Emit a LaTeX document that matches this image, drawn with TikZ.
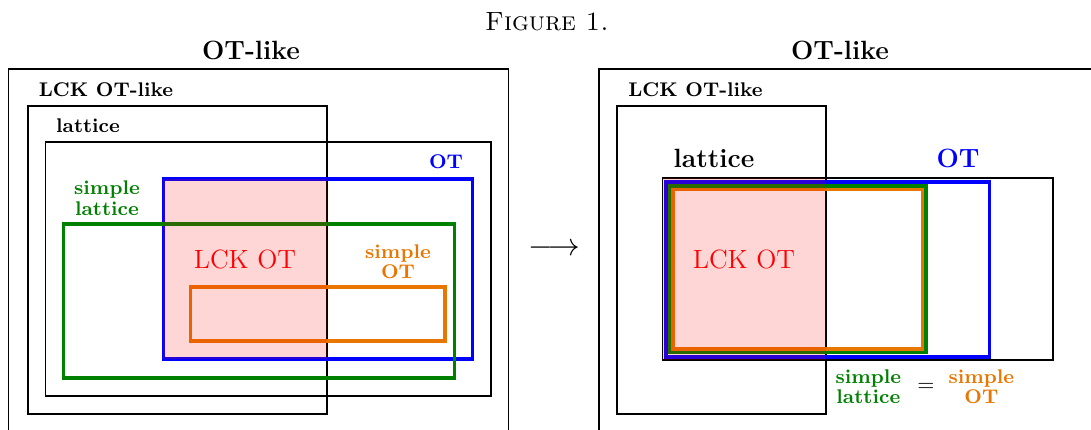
\documentclass[tikz,border=0pt]{standalone}
\usepackage{amsmath,amssymb}
\usepackage{xcolor}
\usetikzlibrary{positioning}
\definecolor{otorange}{RGB}{232,118,0}
\definecolor{otgreen}{RGB}{0,128,0}

\begin{document}
\begin{tikzpicture}[x=0.4545pt,y=-0.4545pt,
  thinbox/.style={draw=black,line width=0.7pt},
  thickbox/.style={line width=1.5pt},
  lab/.style={font=\small\bfseries,align=center,inner sep=0pt},
  biglab/.style={font=\large\bfseries,inner sep=0pt},
  lckfill/.style={fill=red,fill opacity=0.16}]
  \clip (0,0) rectangle (1091,430);
  \node[inner sep=0pt,anchor=base,font=\large] (cap) at (547,31) {\textsc{Figure 1.}};
  % left picture
  \node[biglab,anchor=base] (tl) at (251,60) {OT-like};
  \draw[thinbox] (8.7,69) rectangle (508.5,450);
  \node[lab,anchor=base] (lckl) at (106,97) {LCK OT-like};
  \draw[thinbox] (27.8,106) rectangle (327,414);
  \node[lab,anchor=base] (latl) at (88,133) {lattice};
  \draw[thinbox] (45.5,142) rectangle (490.8,396);
  \node[lab,anchor=base,text=blue] (otl) at (446,169) {OT};
  \draw[thickbox,blue] (163.4,179) rectangle (472.7,359);
  \node[lab,text=otgreen] (sll) at (107,198) {simple\\[-1.5pt]lattice};
  \draw[thickbox,otgreen] (63.3,224) rectangle (454.3,378);
  \node[lab,text=otorange] (sol) at (398,262) {simple\\[-2pt]OT};
  \draw[thickbox,otorange] (190.8,287) rectangle (445,341);
  \fill[lckfill] (163.4,179) rectangle (327,359);
  \node[font=\large,text=red,anchor=base] (lcotl) at (245,269) {LCK OT};
  % arrow
  \node[inner sep=0pt] (arr) at (554.5,250) {\Large$\longrightarrow$};
  % right picture
  \node[biglab,anchor=base] (tr) at (840,60) {OT-like};
  \draw[thinbox] (599,69) rectangle (1110,450);
  \node[lab,anchor=base] (lckr) at (695.5,97) {LCK OT-like};
  \draw[thinbox] (617,106) rectangle (826,414);
  \node[biglab,anchor=base] (latr) at (714,168) {lattice};
  \node[biglab,anchor=base,text=blue] (otr) at (958,168) {OT};
  \draw[thinbox] (662.7,178) rectangle (1053,360);
  \draw[thickbox,blue] (666,182) rectangle (989.6,357);
  \draw[thickbox,otgreen] (669.5,186) rectangle (926,352);
  \draw[thickbox,otorange] (673,189.5) rectangle (922.8,349);
  \fill[lckfill] (662.7,178) rectangle (826,360);
  \node[font=\large,text=red,anchor=base] (lcotr) at (744,269) {LCK OT};
  \node[inner sep=0pt] (eq) at (926,387) {$=$};
  \node[lab,text=otgreen,left=7pt of eq] (slr) {simple\\[-2pt]lattice};
  \node[lab,text=otorange,right=6pt of eq] (sor) {simple\\[-2pt]OT};
\end{tikzpicture}
\end{document}
